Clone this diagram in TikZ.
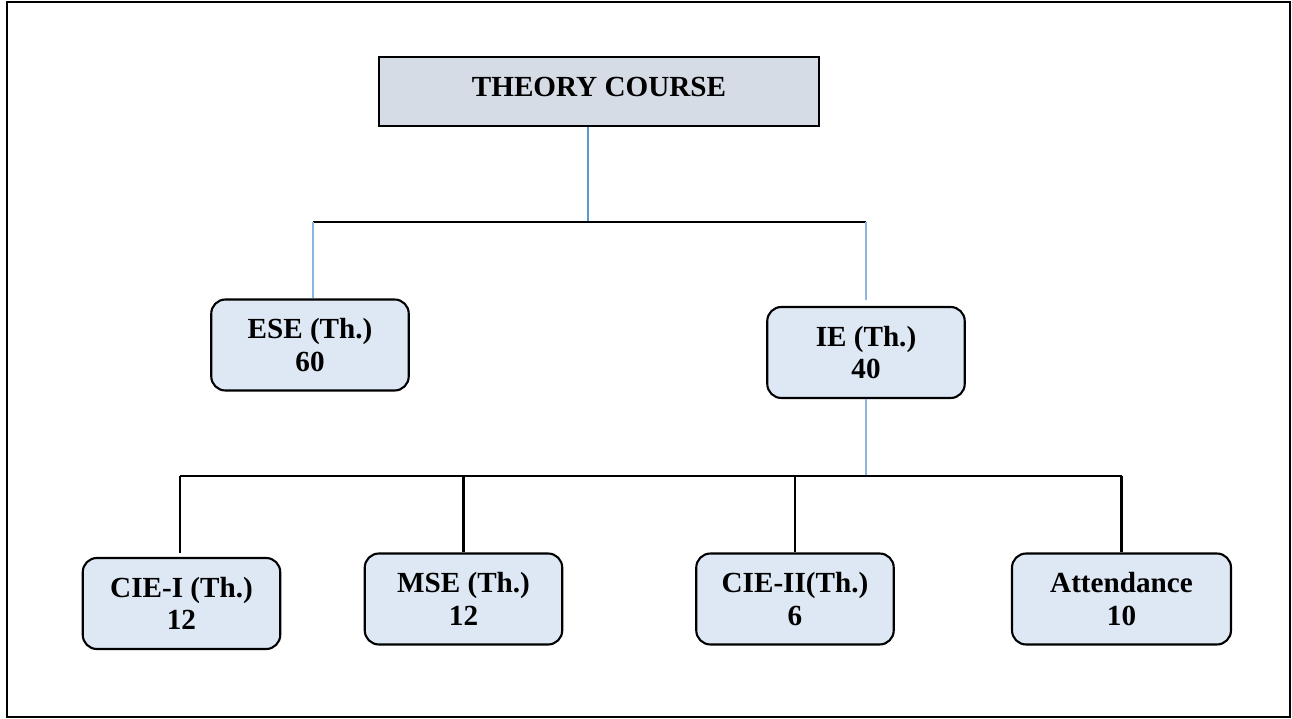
\documentclass[tikz,border=0pt]{standalone}
\usepackage{fontspec}
\setmainfont{Liberation Serif}
\usetikzlibrary{positioning}
\definecolor{headfill}{HTML}{D6DCE5}
\definecolor{markfill}{HTML}{DEE8F4}
\definecolor{linkblue}{HTML}{8DB3E2}
\definecolor{stemblue}{HTML}{5B9BD5}

\begin{document}
\begin{tikzpicture}[x=0.02cm,y=-0.02cm,
	font=\fontsize{16.6}{18.4}\selectfont\bfseries,
	headbox/.style={draw,line width=1.2pt,fill=headfill,minimum width=8.8cm,minimum height=1.38cm,inner sep=0pt},
	markbox/.style={draw,line width=1.2pt,fill=markfill,rounded corners=8pt,align=center,minimum width=3.95cm,minimum height=1.82cm,inner sep=0pt},
	bluelink/.style={linkblue,line width=1.3pt},
	blacklink/.style={black,line width=1.2pt}]
	\useasboundingbox (0,0) rectangle (1292,719);
	\draw[line width=1.4pt] (7,2) rectangle (1290,717);

	\node[headbox] (theory) at (599,91.5) {\raisebox{5pt}{THEORY COURSE}};
	\node[markbox] (ese) at (310,345) {ESE (Th.)\\60};
	\node[markbox] (ie) at (866,352.5) {IE (Th.)\\40};

	\node[markbox] (ciei) at (181.5,603.5) {CIE-I (Th.)\\12};
	\node[markbox] (mse) at (463.5,599) {MSE (Th.)\\12};
	\node[markbox] (cieii) at (795,599) {CIE-II(Th.)\\6};
	\node[markbox,minimum width=4.38cm] (att) at (1121.5,599) {Attendance\\10};

	% upper level
	\coordinate (tmid) at (588,222);
	\coordinate (tleft) at (313,222);
	\coordinate (tright) at (866,222);
	\coordinate (ietop) at (866,300);
	\draw[stemblue,line width=1.3pt] (tmid |- theory.south) -- (tmid);
	\draw[blacklink] (tleft) -- (tright);
	\draw[bluelink] (tleft) -- (tleft |- ese.north);
	\draw[bluelink] (tright) -- (ietop);

	% lower level
	\coordinate (bmid) at (866,476);
	\coordinate (bleft) at (180,476);
	\coordinate (bright) at (1122,476);
	\coordinate (cieitop) at (180,553);
	\draw[bluelink] (ie.south) -- (bmid);
	\draw[blacklink] (bleft) -- (bright);
	\draw[blacklink] (bleft) -- (cieitop);
	\foreach \n in {mse,cieii,att}
		\draw[blacklink] (\n.north |- bleft) -- (\n.north);
\end{tikzpicture}
\end{document}
